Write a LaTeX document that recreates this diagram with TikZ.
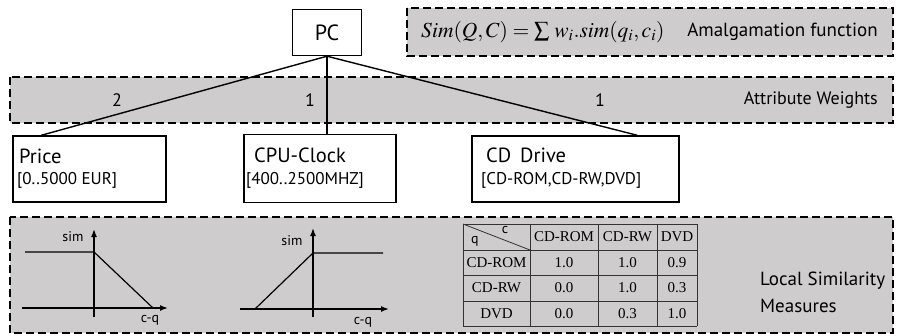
\documentclass[tikz,border=0pt]{standalone}
\usepackage{mathptmx}
\usepackage[no-math]{fontspec}
\setmainfont{PT Sans}
\newfontfamily\tabfont{Liberation Serif}
\usetikzlibrary{positioning, arrows.meta, calc}
\definecolor{bandgray}{HTML}{CECCCD}
\definecolor{gridgray}{HTML}{333333}

\begin{document}
\begin{tikzpicture}[x=1pt, y=-1pt,
    band/.style={draw, line width=1.6pt, dash pattern=on 8pt off 4pt, fill=bandgray},
    attrbox/.style={draw, line width=1.4pt, fill=white, inner sep=0pt},
    edge/.style={line width=1.4pt},
    axis/.style={line width=1.5pt, -{Latex[length=8pt,width=6pt]}},
    curve/.style={line width=1.2pt},
    gridline/.style={draw=gridgray, line width=0.8pt},
    cell/.style={font=\tabfont\fontsize{15}{17}\selectfont, inner sep=0pt},
    small/.style={font=\fontsize{14}{16}\selectfont, inner sep=0pt},
    attrname/.style={anchor=base west, inner sep=0pt, font=\fontsize{20.5}{24}\selectfont},
    attrrange/.style={anchor=base west, inner sep=0pt, font=\fontsize{17}{20}\selectfont},
    weight/.style={font=\fontsize{18}{21}\selectfont, inner sep=0pt}]
        \useasboundingbox (0,0) rectangle (897,335);
        \fill[white] (0,0) rectangle (897,335);

        % dashed bands
        \draw[band] (407,8) rectangle (893,56);
        \draw[band] (10,77) rectangle (893,123);
        \draw[band] (10,217) rectangle (893,333);

        % amalgamation function
        \node[anchor=west, inner sep=0pt, font=\fontsize{21.5}{25}\selectfont] (formula) at (421,32) {$Sim(Q,C) = \sum\, w_i.sim(q_i,c_i)$};
        \node[anchor=east, inner sep=0pt, font=\fontsize{19}{23}\selectfont] (amalg) at (878,32) {Amalgamation function};
        \node[anchor=east, inner sep=0pt, font=\fontsize{18}{22}\selectfont] (weights) at (878,100) {Attribute Weights};

        % concept and attributes
        \node[attrbox, minimum width=69pt, minimum height=46pt, font=\fontsize{22}{26}\selectfont] (pc) at (327,32.5) {PC};
        \node[attrbox, minimum width=153pt, minimum height=66pt] (price) at (89.5,169) {};
        \node[attrbox, minimum width=152pt, minimum height=68pt] (cpu) at (320,168.5) {};
        \node[attrbox, minimum width=207pt, minimum height=66pt] (cd) at (575.5,169) {};
        \draw[edge] (pc.south) -- ([xshift=29pt]price.north west);
        \draw[edge] (pc.south) -- (pc.south |- cpu.north);
        \draw[edge] (pc.south) -- ([xshift=166pt]cd.north west);

        \node[attrname] (priceName) at (19,163) {Price};
        \node[attrrange] (priceRange) at (17,184) {[0..5000 EUR]};
        \node[attrname] (cpuName) at (254,162) {CPU-Clock};
        \node[attrrange] (cpuRange) at (246,184) {[400..2500MHZ]};
        \node[attrname] (cdName) at (486,162) {CD\, Drive};
        \node[attrrange] (cdRange) at (481,184) {[CD-ROM,CD-RW,DVD]};

        % weights
        \node[weight] (wPrice) at (117,100) {2};
        \node[weight] (wCpu) at (310,100) {1};
        \node[weight] (wCd) at (600,100) {1};

        % local similarity: price
        \draw[curve] (25,252) -- (94,252) -- (153,308);
        \draw[axis] (22,308) -- (168,308);
        \draw[axis] (94,317) -- (94,229);
        \node[small] (simPrice) at (73,237) {sim};
        \node[small] (cqPrice) at (150,320) {c-q};

        % local similarity: cpu clock
        \draw[curve] (255,309) -- (313,253) -- (383,253);
        \draw[axis] (240,309) -- (389,309);
        \draw[axis] (313,317) -- (313,228);
        \node[small] (simCpu) at (292,241) {sim};
        \node[small] (cqCpu) at (363,322) {c-q};

        % local similarity: cd drive table
        \foreach \x in {463,530,598,657,697}
            \draw[gridline] (\x,224) -- (\x,326);
        \foreach \y in {224,250,275,301,326}
            \draw[gridline] (463,\y) -- (697,\y);
        \draw[gridline] (463,224) -- (530,250);
        \node[small] (cHead) at (505,230) {c};
        \node[small] (qHead) at (475,241) {q};
        \foreach \cx/\lbl [count=\i] in {564/CD-ROM, 627.5/CD-RW, 677/DVD}
            \node[cell] (col\i) at (\cx,237) {\lbl};
        \foreach \ry/\lbl/\va/\vb/\vc [count=\i] in {262.5/CD-ROM/1.0/1.0/0.9, 288/CD-RW/0.0/1.0/0.3, 313.5/DVD/0.0/0.3/1.0} {
            \node[cell] (row\i) at (496.5,\ry) {\lbl};
            \node[cell] (v\i a) at (564,\ry) {\va};
            \node[cell] (v\i b) at (627.5,\ry) {\vb};
            \node[cell] (v\i c) at (677,\ry) {\vc};
        }

        \node[anchor=north west, align=left, inner sep=0pt, font=\fontsize{19}{27}\selectfont] (localSim) at (760,272) {Local Similarity\\Measures};
\end{tikzpicture}
\end{document}
